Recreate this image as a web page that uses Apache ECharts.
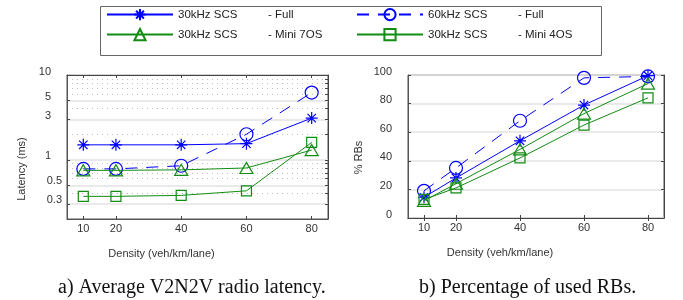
<!DOCTYPE html>
<html>
<head>
<meta charset="utf-8">
<script src="https://cdn.jsdelivr.net/npm/echarts@6/dist/echarts.min.js"></script>
<style>
  html, body { margin: 0; padding: 0; background: #fff; }
  #chart { width: 683px; height: 300px; }
</style>
</head>
<body>
<div id="chart"></div>
<script>
// x categories (vehicle density)
const density = [10, 20, 40, 60, 80]
const latencyTicks = [0.3, 0.5, 1, 3, 5, 10]
const latencyMinor = [0.4, 0.6, 0.7, 0.8, 0.9, 2, 4, 6, 7, 8, 9]

// a) latency (ms)
const lat30Full = [1.5, 1.5, 1.5, 1.55, 3.1]
const lat60Full = [0.78, 0.78, 0.85, 2.0, 6.2]
const lat30Mini7 = [0.75, 0.75, 0.76, 0.8, 1.3]
const lat30Mini4 = [0.37, 0.37, 0.38, 0.43, 1.6]

// b) % of used RBs
const rb30Full = [14.5, 28, 54, 79, 99.5]
const rb60Full = [19, 35, 68, 98, 99]
const rb30Mini7 = [12, 24, 48, 73, 94]
const rb30Mini4 = [13, 21, 42, 65, 84]

const names = ['30kHz SCS - Full', '60kHz SCS - Full', '30kHz SCS - Mini 7OS', '30kHz SCS - Mini 4OS']

const BLUE = '#0000ff'
const GREEN = '#138c13'
const FONT = 'Liberation Sans, Arial, sans-serif'
const SERIF = 'Liberation Serif, Times New Roman, serif'
const STAR = 'path://M5 0L5 10M0 5L10 5M1.5 1.5L8.5 8.5M8.5 1.5L1.5 8.5'

const styles = [
  { symbol: STAR, symbolSize: 12, color: BLUE, dash: 'solid' },
  { symbol: 'circle', symbolSize: 13, color: BLUE, dash: [12, 9] },
  { symbol: 'triangle', symbolSize: [13, 11], color: GREEN, dash: 'solid' },
  { symbol: 'rect', symbolSize: 10, color: GREEN, dash: 'solid' }
]

const pairs = vals => density.map((d, i) => [d, vals[i]])

const makeSeries = (data, xi, yi) => data.map((vals, k) => ({
  name: names[k],
  type: 'line',
  xAxisIndex: xi,
  yAxisIndex: yi,
  data: pairs(vals),
  symbol: styles[k].symbol,
  symbolSize: styles[k].symbolSize,
  lineStyle: { color: styles[k].color, width: 1, type: styles[k].dash },
  itemStyle: { color: 'rgba(255,255,255,0)', borderColor: styles[k].color, borderWidth: 1.2 },
  emphasis: { disabled: true },
  z: 3 + k
}))

const xBottom = gi => ({
  type: 'value', gridIndex: gi, min: 5, max: 85, position: 'bottom',
  name: 'Density (veh/km/lane)', nameLocation: 'middle', nameGap: 29,
  nameTextStyle: { fontFamily: FONT, fontSize: 11, color: '#333', padding: [0, 72, 0, 0] },
  axisLine: { show: true, lineStyle: { color: '#555' } },
  axisTick: { show: true, inside: true, length: 3, customValues: density, lineStyle: { color: '#444' } },
  axisLabel: { customValues: density, fontFamily: FONT, fontSize: 11, color: '#333', margin: 4 },
  splitLine: { show: false }
})
const xTop = gi => ({
  type: 'value', gridIndex: gi, min: 5, max: 85, position: 'top',
  axisLine: { show: true, lineStyle: { color: '#444' } },
  axisTick: { show: true, inside: true, length: 3, customValues: density, lineStyle: { color: '#444' } },
  axisLabel: { show: false },
  splitLine: { show: false }
})

const logBase = { type: 'log', logBase: 10, gridIndex: 0, min: 0.2, max: 10 }

const option = {
  animation: false,
  textStyle: { fontFamily: FONT },
  title: [
    { text: 'a) Average V2N2V radio latency.', left: 53, top: 273,
      textStyle: { fontFamily: SERIF, fontSize: 20, fontWeight: 'normal', color: '#111' } },
    { text: 'b) Percentage of used RBs.', left: 414, top: 273,
      textStyle: { fontFamily: SERIF, fontSize: 20, fontWeight: 'normal', color: '#111' } }
  ],
  graphic: [{
    type: 'rect', left: 98, top: 4,
    shape: { width: 501, height: 49 },
    style: { fill: 'none', stroke: '#666', lineWidth: 1 }
  }],
  legend: names.map((n, k) => ({
    data: [n],
    left: k % 2 === 0 ? 106 : 356,
    top: k < 2 ? 8 : 28,
    itemWidth: 66, itemHeight: 14, padding: 0,
    selectedMode: false,
    formatter: name => {
      const parts = name.split(' - ')
      return '{a|' + parts[0] + '}{b|- ' + parts[1] + '}'
    },
    textStyle: {
      fontFamily: FONT, fontSize: 11.5, color: '#222',
      rich: { a: { width: 90, fontSize: 11.5, fontFamily: FONT }, b: { fontSize: 11.5, fontFamily: FONT } }
    }
  })),
  grid: [
    { left: 67, top: 75, width: 261, height: 144, show: true, borderColor: '#555', borderWidth: 1, backgroundColor: '#fff' },
    { left: 408, top: 75, width: 256, height: 143, show: true, borderColor: '#555', borderWidth: 1, backgroundColor: '#fff' }
  ],
  xAxis: [xBottom(0), xTop(0), xBottom(1), xTop(1)],
  yAxis: [
    Object.assign({}, logBase, {
      position: 'left',
      name: 'Latency (ms)', nameLocation: 'middle', nameGap: 40, nameRotate: 90,
      nameTextStyle: { fontFamily: FONT, fontSize: 11, color: '#333', padding: [0, 44, 0, 0] },
      axisLine: { show: true, lineStyle: { color: '#555' } },
      axisTick: { show: true, inside: true, length: 3, customValues: latencyTicks, lineStyle: { color: '#444' } },
      axisLabel: {
        customValues: latencyTicks, fontFamily: FONT, fontSize: 11, color: '#333', margin: 5,
        formatter: v => (v < 1 ? '{s|' + v + '}' : '{n|' + v + '}'),
        rich: { s: { fontSize: 11, padding: [0, 0, 8, 0] }, n: { fontSize: 11, padding: [0, 11, 7, 0] } }
      },
      splitLine: { show: true, lineStyle: { color: '#e2e2e2', width: 1.5 } }
    }),
    Object.assign({}, logBase, {
      position: 'right',
      axisLine: { show: true, lineStyle: { color: '#444' } },
      axisTick: { show: true, inside: true, length: 3, customValues: latencyTicks.concat(latencyMinor), lineStyle: { color: '#444' } },
      axisLabel: { show: false },
      splitLine: { show: false }
    }),
    Object.assign({}, logBase, {
      position: 'left',
      axisLine: { show: false },
      axisTick: { show: false, customValues: latencyMinor },
      axisLabel: { show: false },
      splitLine: { show: true, lineStyle: { color: '#bdbdbd', width: 1, type: [1, 4] } }
    }),
    {
      type: 'value', gridIndex: 1, min: 0, max: 100, interval: 20, position: 'left',
      name: '% RBs', nameLocation: 'middle', nameGap: 44, nameRotate: 90,
      nameTextStyle: { fontFamily: FONT, fontSize: 11, color: '#333', padding: [0, 22, 0, 0] },
      axisLine: { show: true, lineStyle: { color: '#555' } },
      axisTick: { show: true, inside: true, length: 3, lineStyle: { color: '#444' } },
      axisLabel: {
        fontFamily: FONT, fontSize: 11, color: '#333', margin: 16,
        formatter: v => '{n|' + v + '}',
        rich: { n: { fontSize: 11, padding: [0, 0, 7, 0] } }
      },
      splitLine: { show: true, lineStyle: { color: '#e2e2e2', width: 1.5 } }
    },
    {
      type: 'value', gridIndex: 1, min: 0, max: 100, interval: 20, position: 'right',
      axisLine: { show: true, lineStyle: { color: '#444' } },
      axisTick: { show: true, inside: true, length: 3, lineStyle: { color: '#444' } },
      axisLabel: { show: false },
      splitLine: { show: false }
    }
  ],
  series: [
    ...makeSeries([lat30Full, lat60Full, lat30Mini7, lat30Mini4], 0, 0),
    ...makeSeries([rb30Full, rb60Full, rb30Mini7, rb30Mini4], 2, 3)
  ]
}

const chart = echarts.init(document.getElementById('chart'))
chart.setOption(option)
</script>
</body>
</html>
